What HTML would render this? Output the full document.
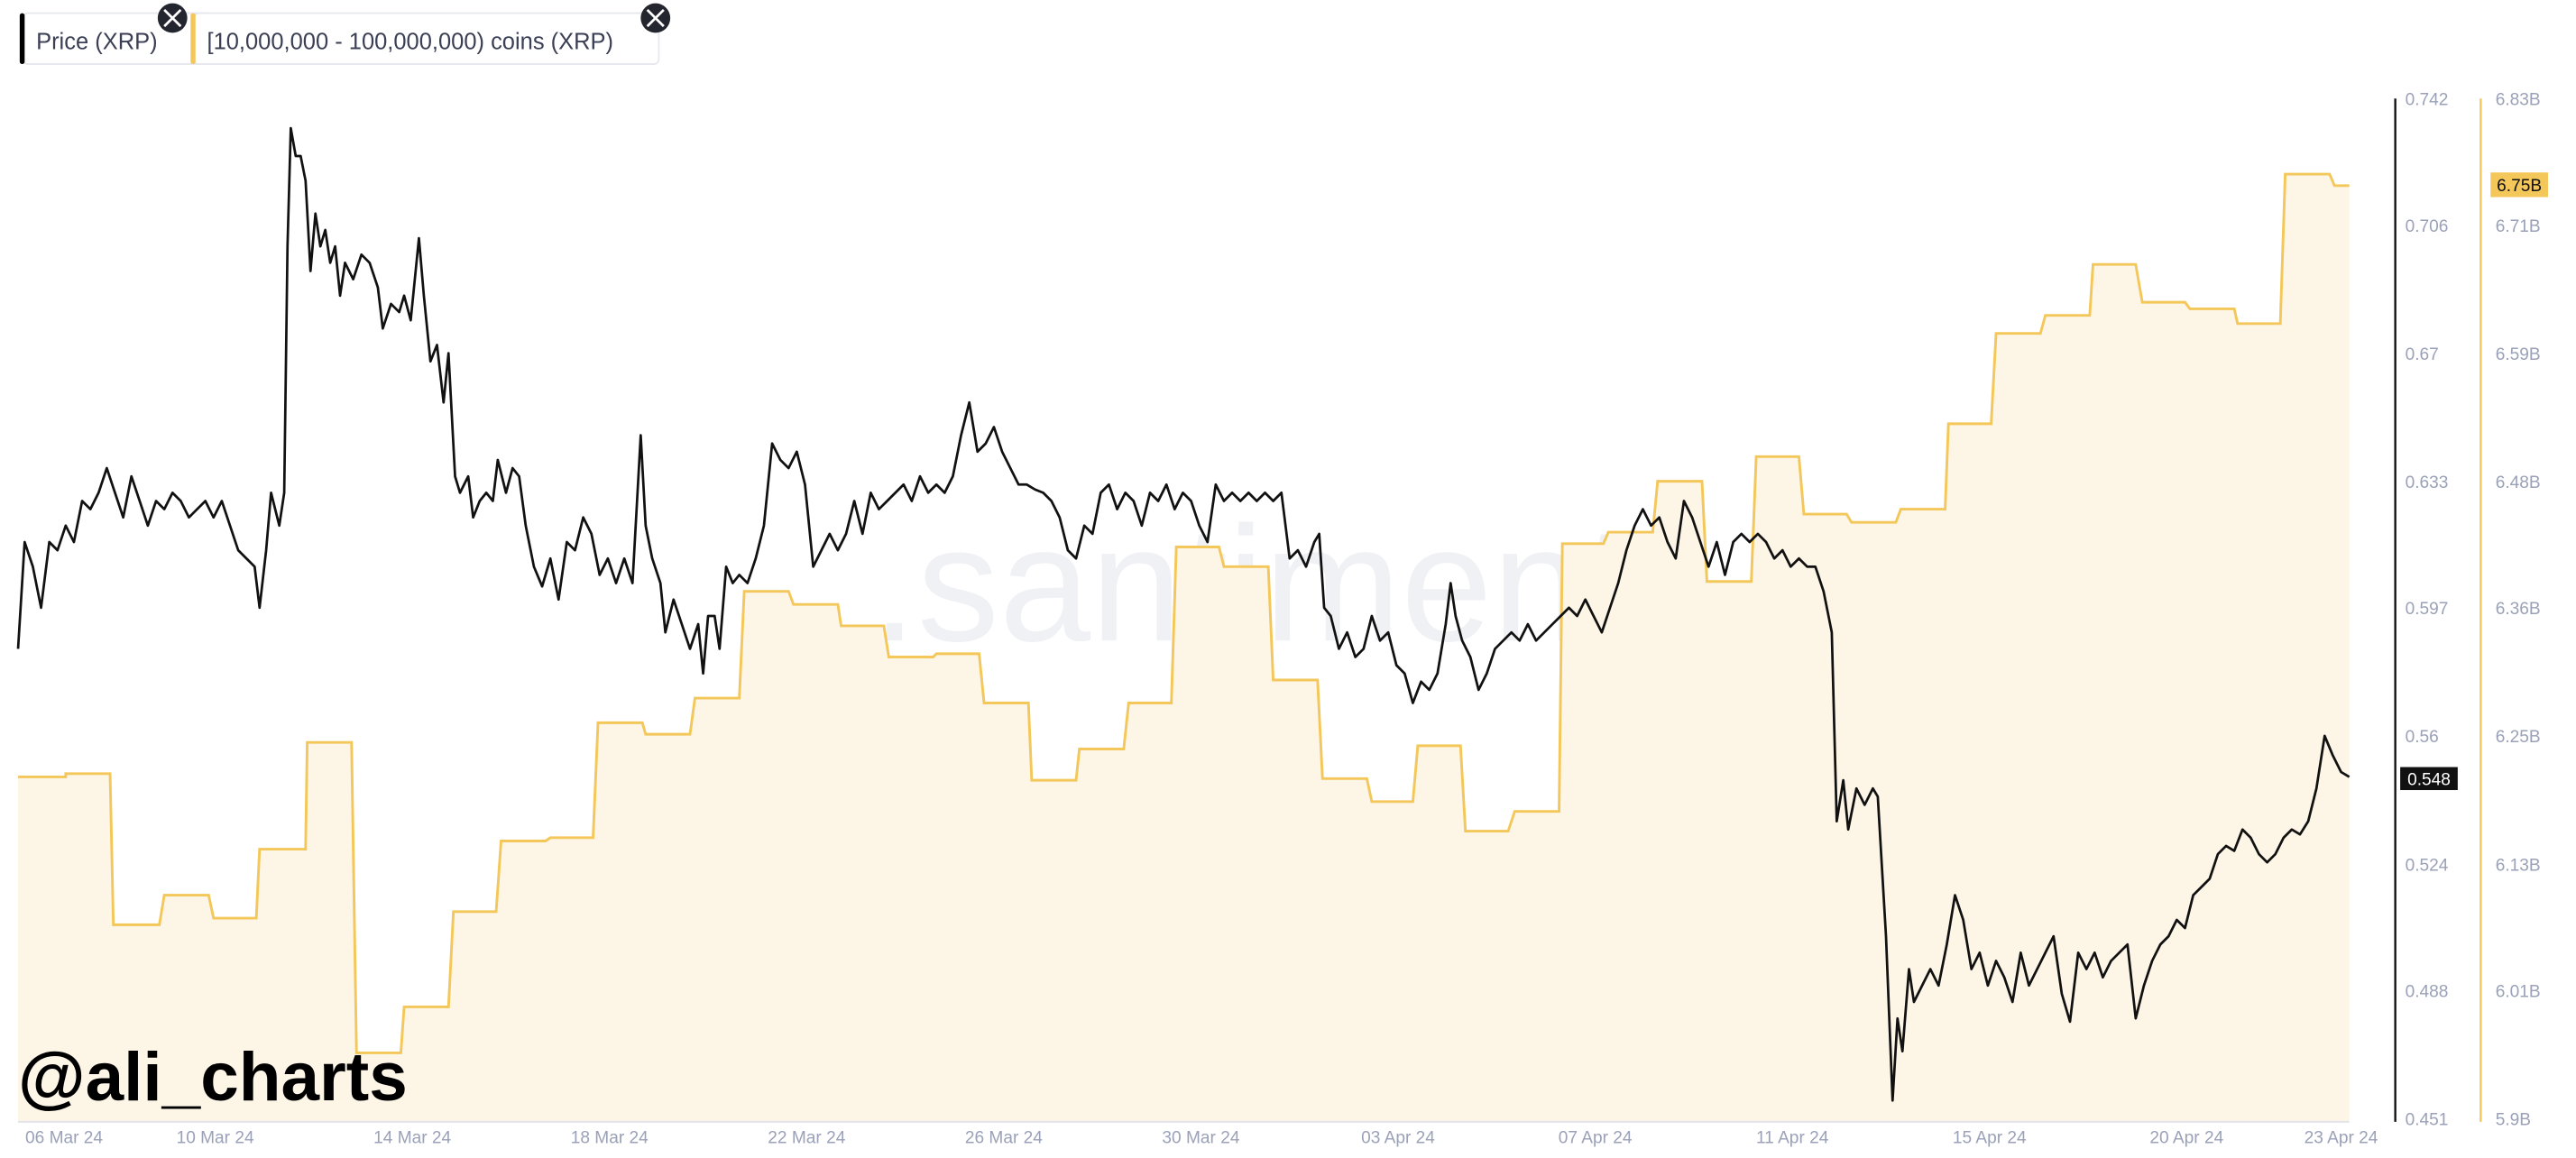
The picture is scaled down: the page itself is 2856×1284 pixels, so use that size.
<!DOCTYPE html>
<html><head><meta charset="utf-8"><style>
html,body{margin:0;padding:0;background:#fff;}
svg{display:block;font-family:"Liberation Sans",sans-serif;}
</style></head><body>
<svg width="2856" height="1284" viewBox="0 0 1568 705" preserveAspectRatio="none">
<rect width="1568" height="705" fill="#fff"/>
<text x="775" y="390" font-size="100" fill="#f0f1f5" text-anchor="middle" font-weight="300">.santiment.</text>
<path fill="#fdf5e6" d="M11,683 L11,473 40,473 40,471 67,471 69,563 97,563 100,545 127,545 130,559 156,559 158,517 186,517 187,452 214,452 217,641 244,641 246,613 273,613 276,555 302,555 305,512 332,512 335,510 361,510 364,440 391,440 393,447 420,447 423,425 450,425 453,360 480,360 483,368 510,368 512,381 538,381 541,400 568,400 570,398 596,398 599,428 626,428 628,475 655,475 657,456 684,456 687,428 713,428 716,333 742,333 745,345 772,345 775,414 802,414 805,474 832,474 835,488 860,488 863,454 889,454 892,506 918,506 922,494 949,494 951,331 976,331 979,324 1006,324 1009,293 1036,293 1039,354 1066,354 1069,278 1095,278 1098,313 1124,313 1127,318 1154,318 1157,310 1184,310 1186,258 1212,258 1215,203 1242,203 1245,192 1272,192 1274,161 1300,161 1304,184 1330,184 1333,188 1360,188 1362,197 1388,197 1391,106 1418,106 1421,113 1430,113 L1430,683 Z"/>
<polyline fill="none" stroke="#f3c75a" stroke-width="1.6" points="11,473 40,473 40,471 67,471 69,563 97,563 100,545 127,545 130,559 156,559 158,517 186,517 187,452 214,452 217,641 244,641 246,613 273,613 276,555 302,555 305,512 332,512 335,510 361,510 364,440 391,440 393,447 420,447 423,425 450,425 453,360 480,360 483,368 510,368 512,381 538,381 541,400 568,400 570,398 596,398 599,428 626,428 628,475 655,475 657,456 684,456 687,428 713,428 716,333 742,333 745,345 772,345 775,414 802,414 805,474 832,474 835,488 860,488 863,454 889,454 892,506 918,506 922,494 949,494 951,331 976,331 979,324 1006,324 1009,293 1036,293 1039,354 1066,354 1069,278 1095,278 1098,313 1124,313 1127,318 1154,318 1157,310 1184,310 1186,258 1212,258 1215,203 1242,203 1245,192 1272,192 1274,161 1300,161 1304,184 1330,184 1333,188 1360,188 1362,197 1388,197 1391,106 1418,106 1421,113 1430,113"/>
<polyline fill="none" stroke="#111" stroke-width="1.5" stroke-linejoin="round" points="11,395 15,330 20,345 25,370 30,330 35,335 40,320 45,330 50,305 55,310 60,300 65,285 70,300 75,315 80,290 85,305 90,320 95,305 100,310 105,300 110,305 115,315 120,310 125,305 130,315 135,305 140,320 145,335 150,340 155,345 158,370 162,335 165,300 170,320 173,300 175,150 177,78 180,95 183,95 186,110 189,165 192,130 195,150 198,140 201,160 204,150 207,180 210,160 215,170 220,155 225,160 230,175 233,200 238,185 243,190 246,180 250,195 255,145 258,180 262,220 266,210 270,245 273,215 277,290 280,300 285,290 288,315 292,305 296,300 300,305 303,280 308,300 312,285 316,290 320,320 325,345 330,357 335,340 340,365 345,330 350,335 355,315 360,325 365,350 370,340 375,355 380,340 385,355 390,265 393,320 397,340 402,355 405,385 410,365 415,380 420,395 425,380 428,410 431,375 435,375 438,395 442,345 446,355 450,350 455,355 460,340 465,320 470,270 475,280 480,285 485,275 490,295 495,345 500,335 505,325 510,335 515,325 520,305 525,325 530,300 535,310 540,305 545,300 550,295 555,305 560,290 565,300 570,295 575,300 580,290 585,265 590,245 595,275 600,270 605,260 610,275 615,285 620,295 625,295 630,298 635,300 640,305 645,315 650,335 655,340 660,320 665,325 670,300 675,295 680,310 685,300 690,305 695,320 700,300 705,305 710,295 715,310 720,300 725,305 730,320 735,330 740,295 745,305 750,300 755,305 760,300 765,305 770,300 775,305 780,300 785,340 790,335 795,345 800,330 803,325 806,370 810,375 815,395 820,385 825,400 830,395 835,375 840,390 845,385 850,405 855,410 860,428 865,415 870,420 875,410 880,380 883,355 886,375 890,390 895,400 900,420 905,410 910,395 915,390 920,385 925,390 930,380 935,390 940,385 945,380 950,375 955,370 960,375 965,365 970,375 975,385 980,370 985,355 990,335 995,320 1000,310 1005,320 1010,315 1015,330 1020,340 1025,305 1030,315 1035,330 1040,345 1045,330 1050,350 1055,330 1060,325 1065,330 1070,325 1075,330 1080,340 1085,335 1090,345 1095,340 1100,345 1105,345 1110,360 1115,385 1118,500 1122,475 1125,505 1130,480 1135,490 1140,480 1143,485 1148,570 1152,670 1155,620 1158,640 1162,590 1165,610 1170,600 1175,590 1180,600 1185,575 1190,545 1195,560 1200,590 1205,580 1210,600 1215,585 1220,595 1225,610 1230,580 1235,600 1240,590 1245,580 1250,570 1255,605 1260,622 1265,580 1270,590 1275,580 1280,595 1285,585 1290,580 1295,575 1300,620 1305,600 1310,585 1315,575 1320,570 1325,560 1330,565 1335,545 1340,540 1345,535 1350,520 1355,515 1360,518 1365,505 1370,510 1375,520 1380,525 1385,520 1390,510 1395,505 1400,508 1405,500 1410,480 1415,448 1420,460 1425,470 1430,473"/>
<line x1="11" y1="683" x2="1430" y2="683" stroke="#e4e6ec" stroke-width="1.2"/>
<line x1="1458" y1="60" x2="1458" y2="683" stroke="#111" stroke-width="1.3"/>
<line x1="1510" y1="60" x2="1510" y2="683" stroke="#f3c75a" stroke-width="1.3"/>
<g font-size="10.5" fill="#9aa1b8">
<text x="1464" y="64">0.742</text><text x="1464" y="141">0.706</text><text x="1464" y="219">0.67</text><text x="1464" y="297">0.633</text><text x="1464" y="374">0.597</text><text x="1464" y="452">0.56</text><text x="1464" y="530">0.524</text><text x="1464" y="607">0.488</text><text x="1464" y="685">0.451</text>
<text x="1519" y="64">6.83B</text><text x="1519" y="141">6.71B</text><text x="1519" y="219">6.59B</text><text x="1519" y="297">6.48B</text><text x="1519" y="374">6.36B</text><text x="1519" y="452">6.25B</text><text x="1519" y="530">6.13B</text><text x="1519" y="607">6.01B</text><text x="1519" y="685">5.9B</text>
</g>
<rect x="1461" y="467" width="35" height="14" fill="#111"/>
<text x="1478.5" y="478" font-size="10.5" fill="#fff" text-anchor="middle">0.548</text>
<rect x="1516" y="105" width="35" height="15" fill="#f3c75a"/>
<text x="1533.5" y="116.5" font-size="10.5" fill="#111" text-anchor="middle">6.75B</text>
<g font-size="10.5" fill="#9aa1b8" text-anchor="middle">
<text x="39" y="696">06 Mar 24</text><text x="131" y="696">10 Mar 24</text><text x="251" y="696">14 Mar 24</text><text x="371" y="696">18 Mar 24</text><text x="491" y="696">22 Mar 24</text><text x="611" y="696">26 Mar 24</text><text x="731" y="696">30 Mar 24</text><text x="851" y="696">03 Apr 24</text><text x="971" y="696">07 Apr 24</text><text x="1091" y="696">11 Apr 24</text><text x="1211" y="696">15 Apr 24</text><text x="1331" y="696">20 Apr 24</text><text x="1425" y="696">23 Apr 24</text>
</g>
<text x="11" y="670" font-size="42" font-weight="bold" fill="#000">@ali_charts</text>
<rect x="14" y="8" width="113" height="31" rx="3" fill="#fff" stroke="#e6e8ee"/>
<rect x="12" y="8" width="3" height="31" rx="1.5" fill="#000"/>
<text x="22" y="30" font-size="14" fill="#3a3f55">Price (XRP)</text>
<circle cx="105" cy="11" r="9" fill="#23262e"/>
<path d="M100,6 L110,16 M110,6 L100,16" stroke="#fff" stroke-width="1.5"/>
<rect x="118" y="8" width="283" height="31" rx="3" fill="#fff" stroke="#e6e8ee"/>
<rect x="116" y="8" width="3" height="31" rx="1.5" fill="#f3c75a"/>
<text x="126" y="30" font-size="14" fill="#3a3f55">[10,000,000 - 100,000,000) coins (XRP)</text>
<circle cx="399" cy="11" r="9" fill="#23262e"/>
<path d="M394,6 L404,16 M404,6 L394,16" stroke="#fff" stroke-width="1.5"/>
</svg>
</body></html>
